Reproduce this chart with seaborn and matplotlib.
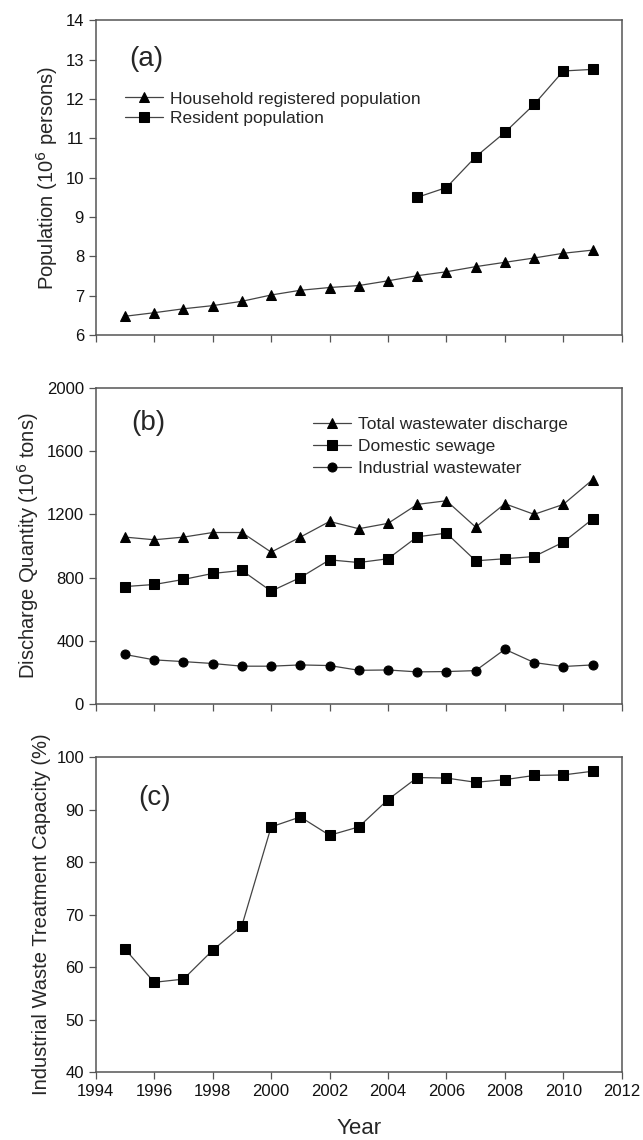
import matplotlib
matplotlib.use('Agg')
import matplotlib.pyplot as plt
import seaborn as sns

# data
years = list(range(1995, 2012))
household_pop = [6.48, 6.57, 6.67, 6.75, 6.86, 7.02, 7.14, 7.21, 7.26, 7.38,
                 7.51, 7.61, 7.74, 7.85, 7.96, 8.08, 8.16]
resident_years = list(range(2005, 2012))
resident_pop = [9.50, 9.75, 10.53, 11.15, 11.86, 12.71, 12.75]

total_ww = [1056, 1039, 1056, 1085, 1085, 961, 1056, 1155, 1109, 1143,
            1263, 1286, 1119, 1267, 1200, 1263, 1419]
domestic = [743, 756, 788, 826, 845, 714, 800, 912, 895, 919,
            1058, 1081, 906, 919, 933, 1024, 1170]
industrial = [313, 279, 268, 256, 239, 239, 247, 243, 213, 215,
              203, 205, 211, 346, 262, 237, 247]

treatment = [63.4, 57.1, 57.7, 63.2, 67.9, 86.7, 88.6, 85.1, 86.7, 91.9,
             96.1, 96.0, 95.2, 95.7, 96.5, 96.6, 97.3]

sns.set_style('ticks')
plt.rcParams['font.family'] = ['Liberation Sans', 'DejaVu Sans']

fig = plt.figure(figsize=(6.43, 11.4), dpi=100)
ax1 = fig.add_axes([0.149, 0.706, 0.818, 0.2763])
ax2 = fig.add_axes([0.149, 0.3825, 0.818, 0.2772])
ax3 = fig.add_axes([0.149, 0.0596, 0.818, 0.2763])

line_kw = dict(color='#444444', linewidth=0.9, markersize=6.5,
               markerfacecolor='black', markeredgecolor='black')
leg_kw = dict(loc='upper left', frameon=False, fontsize=12.5, handlelength=2.2,
              handletextpad=0.4, borderpad=0, borderaxespad=0)

# (a) population
sns.lineplot(x=years, y=household_pop, marker='^', ax=ax1,
             label='Household registered population', **line_kw)
sns.lineplot(x=resident_years, y=resident_pop, marker='s', ax=ax1,
             label='Resident population', **line_kw)
ax1.set_ylim(6, 14)
ax1.set_yticks(range(6, 15))
ax1.set_ylabel('Population (10$^6$ persons)', fontsize=14.5)
ax1.text(0.063, 0.876, '(a)', transform=ax1.transAxes, fontsize=20, va='center')
ax1.legend(bbox_to_anchor=(0.055, 0.774), labelspacing=0.27, **leg_kw)

# (b) discharge
sns.lineplot(x=years, y=total_ww, marker='^', ax=ax2,
             label='Total wastewater discharge', **line_kw)
sns.lineplot(x=years, y=domestic, marker='s', ax=ax2,
             label='Domestic sewage', **line_kw)
sns.lineplot(x=years, y=industrial, marker='o', ax=ax2,
             label='Industrial wastewater', **line_kw)
ax2.set_ylim(0, 2000)
ax2.set_yticks(range(0, 2001, 400))
ax2.set_ylabel('Discharge Quantity (10$^6$ tons)', fontsize=14.5)
ax2.text(0.068, 0.889, '(b)', transform=ax2.transAxes, fontsize=20, va='center')
ax2.legend(bbox_to_anchor=(0.413, 0.909), labelspacing=0.4, **leg_kw)

# (c) treatment capacity
sns.lineplot(x=years, y=treatment, marker='s', ax=ax3, **line_kw)
ax3.set_ylim(40, 100)
ax3.set_yticks(range(40, 101, 10))
ax3.set_ylabel('Industrial Waste Treatment Capacity (%)', fontsize=14.5)
ax3.text(0.08, 0.87, '(c)', transform=ax3.transAxes, fontsize=20, va='center')
ax3.set_xlabel('Year', fontsize=16, labelpad=14)

for ax in (ax1, ax2, ax3):
    ax.set_xlim(1994, 2012)
    ax.set_xticks(range(1994, 2013, 2))
    ax.tick_params(direction='out', length=5, width=0.9, labelsize=12,
                   color='#555555', labelcolor='#111111', top=False, right=False)
    for s in ax.spines.values():
        s.set_visible(True)
        s.set_linewidth(1.1)
        s.set_color('#555555')

ax1.set_xticklabels([])
ax2.set_xticklabels([])

fig.savefig('out.png', dpi=100)
